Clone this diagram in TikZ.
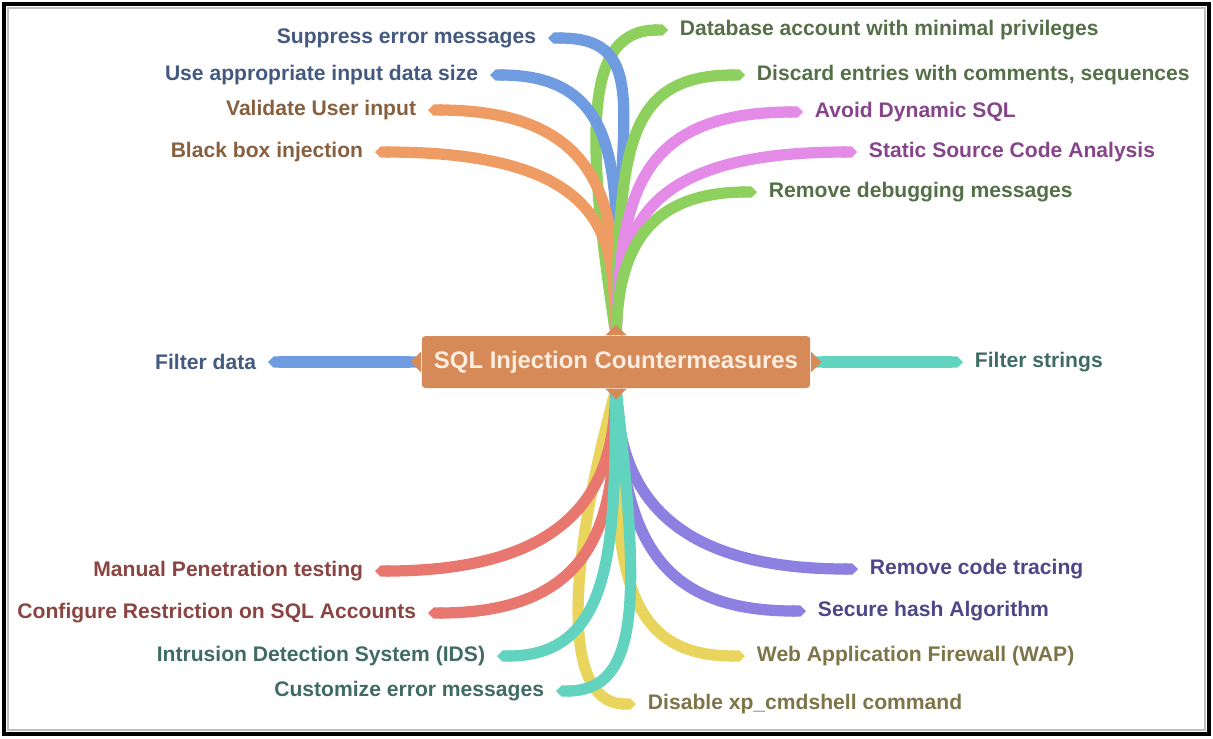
\documentclass[tikz,border=0pt]{standalone}
\usepackage{fontspec}
\setmainfont{Liberation Sans}
\usetikzlibrary{arrows.meta}
\definecolor{bluel}{HTML}{6F9BE0}
\definecolor{bluet}{HTML}{44597F}
\definecolor{orangel}{HTML}{EE9C63}
\definecolor{oranget}{HTML}{86603F}
\definecolor{greenl}{HTML}{8ED05E}
\definecolor{greent}{HTML}{557048}
\definecolor{pinkl}{HTML}{E38BE6}
\definecolor{pinkt}{HTML}{86458A}
\definecolor{teall}{HTML}{62D3BF}
\definecolor{tealt}{HTML}{3F6B64}
\definecolor{redl}{HTML}{E8786F}
\definecolor{redt}{HTML}{8A4542}
\definecolor{purplel}{HTML}{8D80E0}
\definecolor{purplet}{HTML}{4D4787}
\definecolor{yellowl}{HTML}{E9D55E}
\definecolor{yellowt}{HTML}{7C7548}
\definecolor{ctrfill}{HTML}{D58A57}
\definecolor{ctrtext}{HTML}{FCEDE0}
\begin{document}
\begin{tikzpicture}[x=0.01cm, y=-0.01cm,
  ctr/.style={fill=ctrfill, text=ctrtext, rounded corners=1pt,
              minimum width=3.88cm, minimum height=0.52cm, inner sep=0pt,
              font=\fontsize{6.8}{8}\selectfont\bfseries},
  lbl/.style={inner sep=0pt, outer sep=3.4pt,
              font=\fontsize{6}{7}\selectfont\bfseries},
  lft/.style={lbl, anchor=east},
  rgt/.style={lbl, anchor=west},
  br/.style={line width=3.2pt, {Triangle Cap[reversed]}-{Triangle Cap}},
  nub/.style={fill=ctrfill}
]
  \useasboundingbox (0,0) rectangle (1213,738);
  \draw[line width=1.1pt] (4,4) rectangle (1209,734);
  \draw[gray!50, line width=0.5pt] (8,8) rectangle (1205,730);

  \node[ctr] (sqi) at (616,362) {SQL Injection Countermeasures};

  \node[lft, text=bluet]    (sup) at (548,38)  {Suppress error messages};
  \node[lft, text=bluet]    (siz) at (490,75)  {Use appropriate input data size};
  \node[lft, text=oranget]  (val) at (428,110) {Validate User input};
  \node[lft, text=oranget]  (bbx) at (375,152) {Black box injection};

  \node[rgt, text=greent]   (dba) at (668,30)  {Database account with minimal privileges};
  \node[rgt, text=greent]   (dis) at (745,75)  {Discard entries with comments, sequences};
  \node[rgt, text=pinkt]    (dyn) at (803,112) {Avoid Dynamic SQL};
  \node[rgt, text=pinkt]    (ssa) at (857,152) {Static Source Code Analysis};
  \node[rgt, text=greent]   (dbg) at (757,192) {Remove debugging messages};

  \node[lft, text=bluet]    (fdt) at (268,362) {Filter data};
  \node[rgt, text=tealt]    (fst) at (963,362) {Filter strings};

  \node[lft, text=redt]     (mpt) at (375,571) {Manual Penetration testing};
  \node[lft, text=redt]     (cfg) at (428,613) {Configure Restriction on SQL Accounts};
  \node[lft, text=tealt]    (ids) at (497,656) {Intrusion Detection System (IDS)};
  \node[lft, text=tealt]    (cem) at (556,691) {Customize error messages};

  \node[rgt, text=purplet]  (rct) at (858,569) {Remove code tracing};
  \node[rgt, text=purplet]  (sha) at (806,611) {Secure hash Algorithm};
  \node[rgt, text=yellowt]  (waf) at (745,656) {Web Application Firewall (WAP)};
  \node[rgt, text=yellowt]  (xpc) at (636,704) {Disable xp\_cmdshell command};

  \draw[br, greenl]  (sqi.north) .. controls (585,130) and (585,30)  .. (dba.west);
  \draw[br, bluel]   (sqi.north) .. controls (616,120) and (655,38)  .. (sup.east);
  \draw[br, bluel]   (sqi.north) .. controls (618,180) and (625,75)  .. (siz.east);
  \draw[br, orangel] (sqi.north) .. controls (614,230) and (620,110) .. (val.east);
  \draw[br, orangel] (sqi.north) .. controls (612,250) and (620,152) .. (bbx.east);
  \draw[br, greenl]  (sqi.north) .. controls (620,150) and (625,75)  .. (dis.west);
  \draw[br, pinkl]   (sqi.north) .. controls (622,200) and (635,112) .. (dyn.west);
  \draw[br, pinkl]   (sqi.north) .. controls (620,230) and (640,152) .. (ssa.west);
  \draw[br, greenl]  (sqi.north) .. controls (620,260) and (640,192) .. (dbg.west);

  \draw[br, bluel] (sqi.west) -- (fdt.east);
  \draw[br, teall] (sqi.east) -- (fst.west);

  \draw[br, yellowl] (sqi.south) .. controls (560,600) and (570,704) .. (xpc.west);
  \draw[br, yellowl] (sqi.south) .. controls (612,580) and (630,656) .. (waf.west);
  \draw[br, redl]    (sqi.south) .. controls (612,470) and (590,571) .. (mpt.east);
  \draw[br, redl]    (sqi.south) .. controls (614,500) and (610,613) .. (cfg.east);
  \draw[br, purplel] (sqi.south) .. controls (622,500) and (680,569) .. (rct.west);
  \draw[br, purplel] (sqi.south) .. controls (624,540) and (660,611) .. (sha.west);
  \draw[br, teall]   (sqi.south) .. controls (614,540) and (615,656) .. (ids.east);
  \draw[br, teall]   (sqi.south) .. controls (640,600) and (640,691) .. (cem.east);

  \fill[nub] ([xshift=-3pt]sqi.north) -- ([yshift=3pt]sqi.north) -- ([xshift=3pt]sqi.north) -- cycle;
  \fill[nub] ([xshift=-3pt]sqi.south) -- ([yshift=-3pt]sqi.south) -- ([xshift=3pt]sqi.south) -- cycle;
  \fill[nub] ([yshift=-3pt]sqi.west) -- ([xshift=-3pt]sqi.west) -- ([yshift=3pt]sqi.west) -- cycle;
  \fill[nub] ([yshift=-3pt]sqi.east) -- ([xshift=3pt]sqi.east) -- ([yshift=3pt]sqi.east) -- cycle;
\end{tikzpicture}
\end{document}
